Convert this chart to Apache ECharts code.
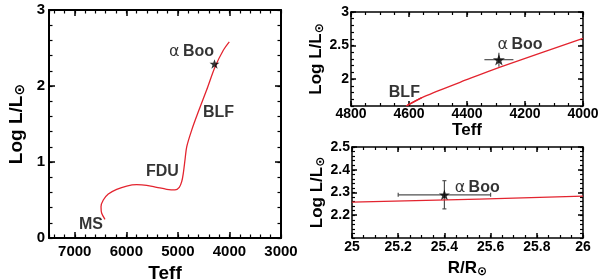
<!DOCTYPE html>
<html><head><meta charset="utf-8">
<script src="https://cdn.jsdelivr.net/npm/echarts@6/dist/echarts.min.js"></script>
<style>html,body{margin:0;padding:0;background:#fff}#c{width:600px;height:279px}</style>
</head><body><div id="c"></div>
<script>
// ---- data ----
const trackTeff = [6414,6478,6491,6447,6350,6187,5993,5799,5605,5411,5217,5056,4973,4926,4895,4860,4829,4732,4604,4441,4280,4119,4003];
const trackLogL = [0.246,0.325,0.412,0.5,0.579,0.641,0.684,0.701,0.693,0.667,0.641,0.632,0.667,0.741,0.851,1.04,1.20,1.42,1.66,1.95,2.25,2.47,2.58];
const blfTeff = [4610,4550,4390,4286,4000];
const blfLogL = [1.6,1.736,2.01,2.18,2.607];
const blfStartTeff = [4606,4556];
const blfStartLogL = [1.61,1.725];
const radiusR = [25,25.55,26];
const radiusLogL = [2.258,2.271,2.284];
const booTeff = 4290, booLogL = 2.29, booTeffErr = 50, booLogLErrHR = 0.104;
const booRadius = 25.4, booRadiusErr = 0.2, booLogLErrR = 0.062;
const leftTeffTicks = [3000,4000,5000,6000,7000];
const leftLogLTicks = [0,1,2,3];
const zoomTeffTicks = [4000,4200,4400,4600,4800];
const zoomLogLTicks = [2,2.5,3];
const radTicks = [25,25.2,25.4,25.6,25.8,26];
const radLogLTicks = [2.2,2.3,2.4,2.5];
const leftNotes = [['α Boo',4736,2.447],['BLF',4213,1.645],['FDU',5299,0.88],['MS',6685,0.178]];
const zoomNotes = [['α Boo',4217,2.515],['BLF',4616,1.806]];
const radNotes = [['α Boo',25.542,2.322]];

// ---- styling / layout ----
const FONT = 'Liberation Sans';
const RED = '#e3242f';
const STAR = 'path://M0,-10 L2.35,-3.24 L9.51,-3.09 L3.8,1.24 L5.88,8.09 L0,4 L-5.88,8.09 L-3.8,1.24 L-9.51,-3.09 L-2.35,-3.24 Z';

function nameStyle(size, sub) {
  return {
    color:'#000',
    rich:{
      n:{fontSize:size, fontWeight:'bold', fontFamily:FONT, color:'#000', lineHeight:size+1, verticalAlign:'top'},
      s:{fontSize:size-5, fontFamily:'DejaVu Sans', fontWeight:'bold', color:'#000', lineHeight:size-5, padding:[sub,0,0,0], verticalAlign:'bottom'}
    }
  };
}

function mkAxes(dim, grid, o) {
  const p1 = dim === 'x' ? 'bottom' : 'left';
  const p2 = dim === 'x' ? 'top' : 'right';
  const base = {type:'value', gridIndex:grid, min:o.min, max:o.max, inverse:!!o.inverse, splitLine:{show:false}};
  const major = (pos, primary) => Object.assign({}, base, {
    position:pos,
    axisLine:{show:true, onZero:false, lineStyle:{color:'#000', width:o.lw}},
    axisTick:{show:true, inside:true, length:o.majorLen, customValues:o.ticks, lineStyle:{color:'#000', width:1.5}},
    axisLabel:{show:primary, customValues:o.ticks, margin:o.margin, color:'#000', fontSize:o.fontSize, fontWeight:'bold', fontFamily:FONT,
      formatter: v => String(+(+v).toFixed(2))},
    name: primary ? o.name : '',
    nameLocation:'middle', nameGap:o.nameGap,
    nameTextStyle: nameStyle(o.nameSize, o.sub)
  });
  const minor = pos => Object.assign({}, base, {
    position:pos, interval:o.minor,
    axisLine:{show:false, onZero:false},
    axisTick:{show:true, inside:true, length:o.minorLen, lineStyle:{color:'#000', width:1.2}},
    axisLabel:{show:false}
  });
  return [major(p1,true), minor(p1), major(p2,false), minor(p2)];
}

const X0 = {min:3000,max:7500,inverse:true,ticks:leftTeffTicks,minor:200,majorLen:6,minorLen:3.5,lw:2,fontSize:15,margin:6,name:'{n|Teff}',nameGap:22,nameSize:19,sub:0};
const Y0 = {min:0,max:3,ticks:leftLogLTicks,minor:0.2,majorLen:6,minorLen:3.5,lw:2,fontSize:15,margin:4,name:'{n|Log L/L}{s|⊙}',nameGap:22,nameSize:19,sub:12};
const X1 = {min:4000,max:4800,inverse:true,ticks:zoomTeffTicks,minor:50,majorLen:5,minorLen:3,lw:1.5,fontSize:14,margin:1,name:'{n|Teff}',nameGap:14,nameSize:17,sub:0};
const Y1 = {min:1.6,max:3,ticks:zoomLogLTicks,minor:0.1,majorLen:5,minorLen:3,lw:1.5,fontSize:14,margin:2,name:'{n|Log L/L}{s|⊙}',nameGap:23,nameSize:17,sub:11};
const X2 = {min:25,max:26,ticks:radTicks,minor:0.05,majorLen:5,minorLen:3,lw:1.5,fontSize:14,margin:2,name:'{n|R/R}{s|⊙}',nameGap:15,nameSize:17,sub:11};
const Y2 = {min:2.1,max:2.5,ticks:radLogLTicks,minor:0.02,majorLen:5,minorLen:3,lw:1.5,fontSize:14,margin:2,name:'{n|Log L/L}{s|⊙}',nameGap:23,nameSize:17,sub:11};

const xAxes = [].concat(mkAxes('x',0,X0), mkAxes('x',1,X1), mkAxes('x',2,X2));
const yAxes = [].concat(mkAxes('y',0,Y0), mkAxes('y',1,Y1), mkAxes('y',2,Y2));

function pairs(a,b){ return a.map((v,i)=>[v,b[i]]); }

function noteSeries(notes, ai) {
  return {
    type:'scatter', xAxisIndex:ai, yAxisIndex:ai, symbolSize:1, silent:true,
    itemStyle:{color:'rgba(0,0,0,0)'},
    data: notes.map(n => ({value:[n[1],n[2]], name:n[0]})),
    label:{show:true, position:'inside', color:'#000',
      formatter: p => p.name.indexOf('α') === 0 ? '{a|α} {b|' + p.name.slice(2) + '}' : '{b|' + p.name + '}',
      rich:{
        a:{fontFamily:'DejaVu Sans', fontSize:16, fontWeight:'normal', color:'#000'},
        b:{fontFamily:FONT, fontSize:16, fontWeight:'bold', color:'#000'}
      }
    }
  };
}

function errSeries(ai, x, y, dx, dy, cap) {
  return {
    type:'custom', xAxisIndex:ai, yAxisIndex:ai, silent:true, z:3,
    data:[[x,y,dx,dy]],
    renderItem:(params, api) => {
      const vx = api.value(0), vy = api.value(1), ex = api.value(2), ey = api.value(3);
      const a = api.coord([vx-ex,vy]), b = api.coord([vx+ex,vy]);
      const c = api.coord([vx,vy-ey]), d = api.coord([vx,vy+ey]);
      const st = {stroke:'#505050', lineWidth:1.2};
      const ch = [
        {type:'line', shape:{x1:a[0],y1:a[1],x2:b[0],y2:b[1]}, style:st},
        {type:'line', shape:{x1:c[0],y1:c[1],x2:d[0],y2:d[1]}, style:st}
      ];
      if (cap) {
        ch.push({type:'line', shape:{x1:a[0],y1:a[1]-cap,x2:a[0],y2:a[1]+cap}, style:st});
        ch.push({type:'line', shape:{x1:b[0],y1:b[1]-cap,x2:b[0],y2:b[1]+cap}, style:st});
        ch.push({type:'line', shape:{x1:c[0]-cap,y1:c[1],x2:c[0]+cap,y2:c[1]}, style:st});
        ch.push({type:'line', shape:{x1:d[0]-cap,y1:d[1],x2:d[0]+cap,y2:d[1]}, style:st});
      }
      return {type:'group', children:ch};
    }
  };
}

function starSeries(ai, x, y, size) {
  return {type:'scatter', xAxisIndex:ai, yAxisIndex:ai, symbol:STAR, symbolKeepAspect:true, symbolSize:size, silent:true, z:5,
    itemStyle:{color:'#000'}, data:[[x,y]]};
}

const chart = echarts.init(document.getElementById('c'));
chart.setOption({
  animation:false,
  grid:[
    {left:49, top:10, width:232, height:228, outerBoundsMode:'none'},
    {left:351, top:12, width:232, height:94, outerBoundsMode:'none'},
    {left:352, top:147, width:231, height:91, outerBoundsMode:'none'}
  ],
  xAxis: xAxes,
  yAxis: yAxes,
  series:[
    {type:'line', xAxisIndex:0, yAxisIndex:0, data:pairs(trackTeff,trackLogL), smooth:0.3, symbol:'none', lineStyle:{color:RED, width:1.3}, silent:true},
    starSeries(0, booTeff, booLogL, 10),
    noteSeries(leftNotes, 0),
    {type:'line', xAxisIndex:4, yAxisIndex:4, data:pairs(blfTeff,blfLogL), smooth:0.3, symbol:'none', lineStyle:{color:RED, width:1.3}, silent:true},
    {type:'line', xAxisIndex:4, yAxisIndex:4, data:pairs(blfStartTeff,blfStartLogL), symbol:'none', lineStyle:{color:RED, width:1.5}, silent:true},
    errSeries(4, booTeff, booLogL, booTeffErr, booLogLErrHR, 0),
    starSeries(4, booTeff, booLogL, 12),
    noteSeries(zoomNotes, 4),
    {type:'line', xAxisIndex:8, yAxisIndex:8, data:pairs(radiusR,radiusLogL), symbol:'none', lineStyle:{color:RED, width:1.3}, silent:true},
    errSeries(8, booRadius, booLogL, booRadiusErr, booLogLErrR, 2),
    starSeries(8, booRadius, booLogL, 11),
    noteSeries(radNotes, 8)
  ]
});
</script>
</body></html>
